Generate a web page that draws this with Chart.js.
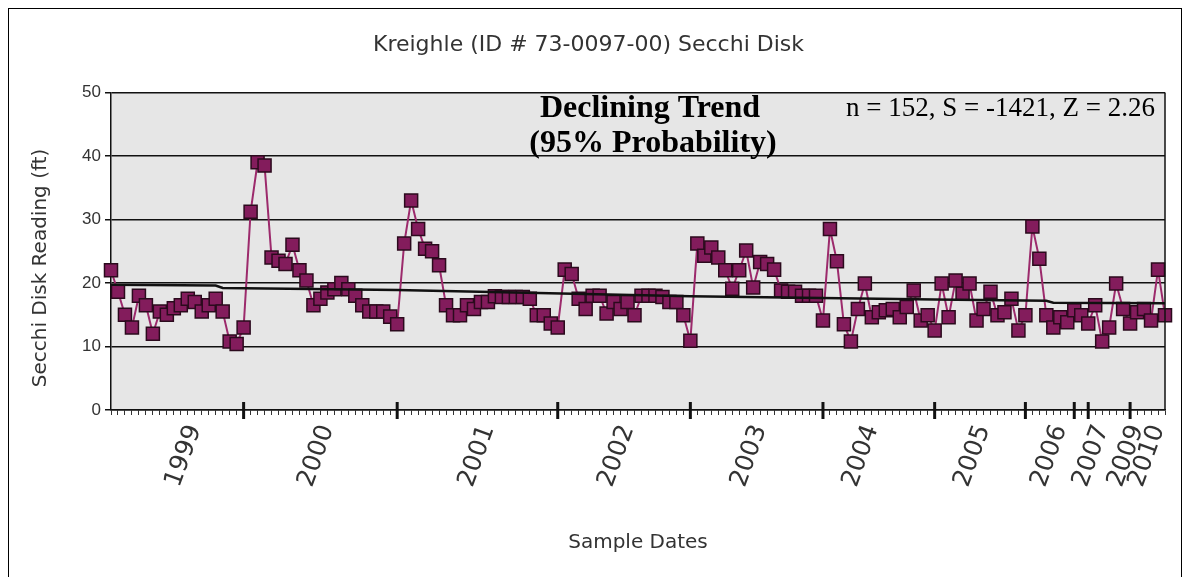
<!DOCTYPE html>
<html>
<head>
<meta charset="utf-8">
<title>Kreighle Secchi Disk</title>
<script src="https://cdn.jsdelivr.net/npm/chart.js@4.4.1/dist/chart.umd.min.js"></script>
<style>
  html, body { margin: 0; padding: 0; background: #fff; }
  #wrap { width: 1190px; height: 577px; }
</style>
</head>
<body>
<div id="wrap"><canvas id="chart"></canvas></div>
<script>
// years and how many samples fall in each one (152 in all)
const years = ["1999", "2000", "2001", "2002", "2003", "2004", "2005", "2006", "2007", "2009", "2010"];
const yearCounts = [19, 22, 23, 19, 19, 16, 13, 7, 2, 6, 6];

// sample index where each rotated year label sits
const yearLabelAt = [13, 32, 55, 75, 94, 110, 126, 137, 143, 148, 151];

// secchi disk readings (ft)
const secchiFt = [
  22, 18.6, 15, 13, 18, 16.5, 12, 15.5, 15, 16, 16.5, 17.5, 17, 15.5, 16.5, 17.5, 15.5, 10.8, 10.4,
  13, 31.2, 39, 38.5, 24, 23.5, 23, 26, 22, 20.4, 16.5, 17.5, 18.5, 19, 20, 19, 18, 16.5, 15.5, 15.5, 15.5, 14.7,
  13.5, 26.2, 33, 28.5, 25.4, 25, 22.8, 16.5, 14.9, 14.9, 16.5, 15.9, 17, 17, 17.9, 17.8, 17.8, 17.8, 17.8, 17.5, 14.9, 14.9, 13.6,
  13, 22.1, 21.4, 17.5, 15.9, 18, 18, 15.2, 17, 15.9, 17, 14.9, 18, 18, 18, 17.8, 17, 17, 14.9,
  10.9, 26.2, 24.3, 25.6, 24, 22, 19.1, 22, 25.1, 19.3, 23.3, 23, 22.1, 18.8, 18.6, 18.6, 18, 18, 18,
  14.1, 28.5, 23.4, 13.5, 10.8, 15.9, 19.9, 14.6, 15.4, 15.7, 15.9, 14.6, 16.2, 18.8, 14.1, 14.9,
  12.5, 19.9, 14.6, 20.4, 18.3, 19.9, 14.1, 15.9, 18.6, 14.9, 15.4, 17.5, 12.5,
  14.9, 28.9, 23.8, 14.9, 13, 14.6, 13.8,
  15.7, 14.9,
  13.6, 16.5, 10.8, 13, 19.9, 15.9,
  13.6, 15.4, 15.9, 14.1, 22.1, 14.9
];

// trend line break points (sample index, ft)
const trendIdx = [0, 15, 16, 41, 83, 118, 134, 135, 151];
const trendFt = [19.7, 19.6, 19.2, 18.9, 17.9, 17.4, 17.2, 16.9, 16.8];

// one category per sample, named by year
const labels = [];
const yearStarts = [];
years.forEach((yr, k) => {
  if (k > 0) yearStarts.push(labels.length);
  for (let n = 1; n <= yearCounts[k]; n++) labels.push(yr + "-" + n);
});

const yearText = {};
yearLabelAt.forEach((i, k) => { yearText[i] = years[k]; });

const ink = "#333";
const sans = "DejaVu Sans";

const framePlugin = {
  id: "frame",
  beforeDraw(chart) {
    const { ctx, chartArea: a } = chart;
    ctx.save();
    ctx.fillStyle = "#fff";
    ctx.fillRect(0, 0, chart.width, chart.height);
    ctx.strokeStyle = "#000";
    ctx.lineWidth = 1;
    ctx.strokeRect(8.5, 8.5, chart.width - 17, chart.height + 10);
    ctx.fillStyle = "#e6e6e6";
    ctx.fillRect(a.left, a.top, a.right - a.left, a.bottom - a.top);
    ctx.restore();
  },
  afterDraw(chart) {
    const { ctx, chartArea: a } = chart;
    const xs = chart.scales.x;
    ctx.save();
    // right edge of the plot
    ctx.strokeStyle = "#111";
    ctx.lineWidth = 1.5;
    ctx.beginPath();
    ctx.moveTo(a.right, a.top);
    ctx.lineTo(a.right, a.bottom);
    ctx.stroke();
    // big ticks where a new year starts
    ctx.lineWidth = 3;
    yearStarts.forEach((i) => {
      const px = xs.getPixelForValue(i);
      ctx.beginPath();
      ctx.moveTo(px, a.bottom - 8);
      ctx.lineTo(px, a.bottom + 9);
      ctx.stroke();
    });
    // y axis title, sits a little below the middle in the original
    ctx.fillStyle = ink;
    ctx.font = "20px '" + sans + "'";
    ctx.textAlign = "center";
    ctx.textBaseline = "middle";
    ctx.translate(41, 268);
    ctx.rotate(-Math.PI / 2);
    ctx.fillText("Secchi Disk Reading (ft)", 0, 0);
    ctx.setTransform(1, 0, 0, 1, 0, 0);
    // trend notes
    ctx.fillStyle = "#000";
    ctx.textBaseline = "alphabetic";
    ctx.font = "bold 32px 'Liberation Serif'";
    ctx.fillText("Declining Trend", 650, 117);
    ctx.fillText("(95% Probability)", 653, 152);
    ctx.textAlign = "right";
    ctx.font = "27px 'Liberation Serif'";
    ctx.fillText("n = 152, S = -1421, Z = 2.26", 1155, 116);
    ctx.restore();
  },
};

const ctx = document.getElementById("chart").getContext("2d");
const chart = new Chart(ctx, {
  type: "line",
  data: {
    labels: labels,
    datasets: [
      {
        label: "Trend",
        data: trendIdx.map((i, k) => ({ x: labels[i], y: trendFt[k] })),
        borderColor: "#111",
        borderWidth: 2.5,
        pointRadius: 0,
        order: 1,
      },
      {
        label: "Secchi Disk",
        data: secchiFt,
        borderColor: "#9c2a6c",
        borderWidth: 2,
        pointStyle: "rect",
        pointRadius: 9.2,
        pointBackgroundColor: "#831c5c",
        pointBorderColor: "#2b0a1d",
        pointBorderWidth: 1.5,
        order: 2,
      },
    ],
  },
  options: {
    responsive: true,
    maintainAspectRatio: false,
    animation: false,
    layout: { padding: { left: 12, right: 25, top: 12, bottom: 10 } },
    plugins: {
      legend: { display: false },
      tooltip: { enabled: false },
      title: {
        display: true,
        text: "Kreighle (ID # 73-0097-00) Secchi Disk",
        color: ink,
        font: { family: sans, size: 22, weight: "normal" },
        padding: { top: 20, bottom: 34 },
      },
    },
    scales: {
      x: {
        offset: false,
        grid: { display: true, drawOnChartArea: false, tickLength: 5, color: "#333", lineWidth: 1 },
        border: { color: "#111", width: 1.5 },
        ticks: {
          autoSkip: false,
          minRotation: 70,
          maxRotation: 70,
          padding: 6,
          labelOffset: -7,
          color: ink,
          font: { family: "DejaVu Sans", size: 25 },
          callback: (v, i) => yearText[i] || "",
        },
        title: {
          display: true,
          text: "Sample Dates",
          color: ink,
          font: { family: sans, size: 20 },
          padding: { top: 4, bottom: 12 },
        },
        afterFit(scale) {
          scale.height = 157;
          scale.paddingRight = 0;
          scale.paddingLeft = 0;
        },
      },
      y: {
        min: 0,
        max: 50,
        ticks: { stepSize: 10, color: ink, font: { family: "Liberation Sans", size: 17 }, padding: 4 },
        grid: { color: "#111", lineWidth: 1.5, tickLength: 6 },
        border: { color: "#111", width: 1.5 },
        afterFit(scale) { scale.width = 99; },
      },
    },
  },
  plugins: [framePlugin],
});
</script>
</body>
</html>
